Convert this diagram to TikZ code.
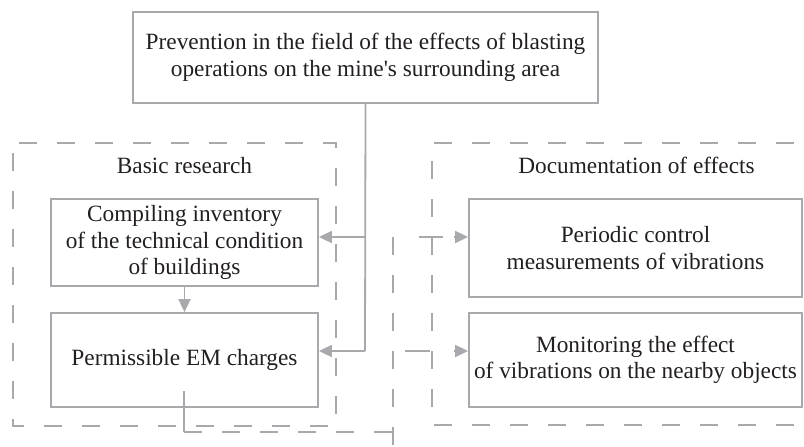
\documentclass[tikz,border=0pt]{standalone}
\usepackage{fontspec}
\setmainfont{Liberation Serif}
\usetikzlibrary{arrows.meta}
\definecolor{lg}{HTML}{A7A9AC}
\definecolor{tx}{HTML}{231F20}
\begin{document}
\begin{tikzpicture}[x=1pt,y=-1pt,
  txt/.style={text=tx, font=\fontsize{23.3}{26.6}\selectfont},
  box/.style={txt, draw=lg, line width=1.8pt, fill=white, align=center, inner sep=0pt},
  frame/.style={draw=lg, line width=1.8pt, dash pattern=on 18pt off 20pt},
  lbl/.style={txt, inner sep=0pt, anchor=base},
  conn/.style={draw=lg, line width=1.8pt},
  arr/.style={conn, -{Triangle[length=13pt,width=12pt]}}
]
\useasboundingbox (0,0) rectangle (804,447);
% dashed frames
\draw[frame, dash phase=28pt] (13,143) rectangle (336,426);
\draw[frame, dash phase=20pt] (812,143) -- (432,143) -- (432,425) -- (812,425);
% labels
\node[lbl] (lbasic) at (184.5,173) {Basic research};
\node[lbl] (ldoc) at (636.5,173) {Documentation of effects};
% boxes
\node[box, minimum width=465pt, minimum height=91pt] (top) at (365.5,57.5)
  {Prevention in the field of the effects of blasting\\operations on the mine\textquotesingle s surrounding area};
\node[box, minimum width=267pt, minimum height=87pt] (c1) at (184.5,242.5)
  {Compiling inventory\\of the technical condition\\of buildings};
\node[box, minimum width=267pt, minimum height=94pt] (c2) at (184.5,360)
  {Permissible EM charges};
\node[box, minimum width=333pt, minimum height=98pt] (r1) at (635.5,248)
  {Periodic control\\measurements of vibrations};
\node[box, minimum width=333pt, minimum height=94pt] (r2) at (635.5,360)
  {Monitoring the effect\\of vibrations on the nearby objects};
% junctions
\coordinate (j1) at (365,237);
\coordinate (j2) at (365,351);
\coordinate (b0) at (184,391);
\coordinate (b1) at (184,432);
\coordinate (b2) at (393,432);
\coordinate (v0) at (393,237);
\coordinate (v1) at (393,447);
\coordinate (h1a) at (419,237);
\coordinate (h1b) at (443,237);
\coordinate (h2a) at (405,351);
\coordinate (h2b) at (430,351);
\coordinate (t1) at (454,237);
\coordinate (t2) at (454,351);
% connectors
\draw[conn] (top.south) -- (j2);
\draw[arr] (j1) -- (j1 -| c1.east);
\draw[arr] (j2) -- (j2 -| c2.east);
\draw[arr] (c1.south) -- (c2.north);
\draw[conn] (b0) -- (b1);
\draw[frame] (b1) -- (b2);
\draw[frame] (v0) -- (v1);
\draw[conn] (h1a) -- (h1b);
\draw[conn] (h2a) -- (h2b);
\draw[arr] (t1) -- (t1 -| r1.west);
\draw[arr] (t2) -- (t2 -| r2.west);
\end{tikzpicture}
\end{document}
